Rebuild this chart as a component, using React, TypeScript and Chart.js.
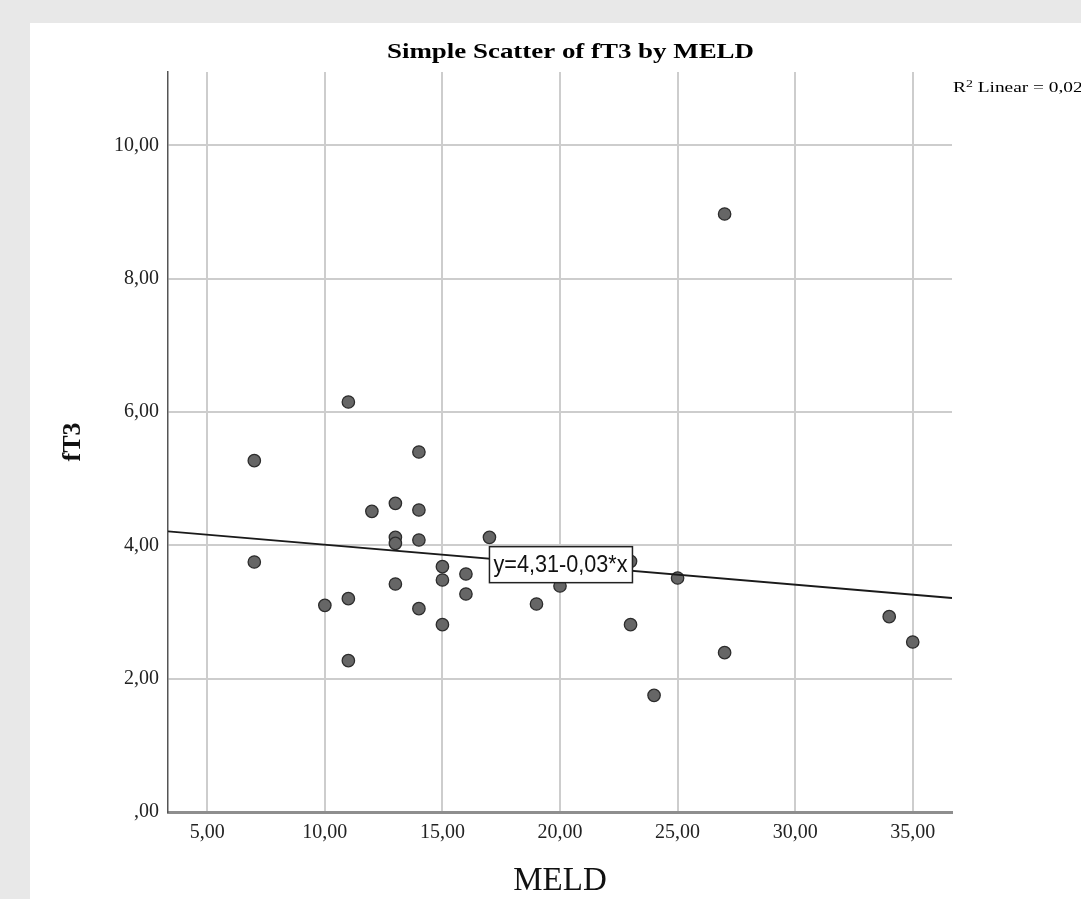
import React, { useEffect, useRef } from "react";
import { Chart, registerables } from "chart.js";

Chart.register(...registerables);

// ---- data ----
const meldValues = [7, 7, 10, 11, 11, 11, 12, 13, 13, 13, 13, 14, 14, 14, 14, 15, 15, 15, 16, 16, 17, 19, 20, 23, 23, 24, 25, 27, 27, 34, 35];
const ft3Values = [5.27, 3.75, 3.1, 6.15, 3.2, 2.27, 4.51, 4.63, 4.12, 4.03, 3.42, 5.4, 4.53, 4.08, 3.05, 3.68, 3.48, 2.81, 3.57, 3.27, 4.12, 3.12, 3.39, 3.76, 2.81, 1.75, 3.51, 8.97, 2.39, 2.93, 2.55];
const xTickValues = [5, 10, 15, 20, 25, 30, 35];
const yTickValues = [0, 2, 4, 6, 8, 10];
const xRange = [3.33, 36.67];
const yRange = [0, 11.1];
const fitIntercept = 4.31;
const fitSlope = -0.03;
const equationAnchorX = 17;
const chartTitle = "Simple Scatter of fT3 by MELD";
const xTitle = "MELD";
const yTitle = "fT3";

const spssTick = (v: number) => {
  const s = v.toFixed(2).replace(".", ",");
  return s.startsWith("0,") ? s.slice(1) : s;
};
const comma = (v: number, d: number) => v.toFixed(d).replace(".", ",");

function rSquared(xs: number[], ys: number[]) {
  const n = xs.length;
  const mx = xs.reduce((a, b) => a + b, 0) / n;
  const my = ys.reduce((a, b) => a + b, 0) / n;
  let sxy = 0, sxx = 0, syy = 0;
  for (let i = 0; i < n; i++) {
    sxy += (xs[i] - mx) * (ys[i] - my);
    sxx += (xs[i] - mx) ** 2;
    syy += (ys[i] - my) ** 2;
  }
  return (sxy * sxy) / (sxx * syy);
}

function drawFitted(ctx: CanvasRenderingContext2D, text: string, x: number, y: number, font: string, targetWidth: number, align: "left" | "center") {
  ctx.save();
  ctx.font = font;
  const w = ctx.measureText(text).width;
  const sx = targetWidth / w;
  ctx.translate(x, y);
  ctx.scale(sx, 1);
  ctx.textAlign = "left";
  ctx.fillText(text, align === "center" ? -w / 2 : 0, 0);
  ctx.restore();
}

const spssTextPlugin = {
  id: "spssText",
  afterDatasetsDraw(chart: any) {
    const { ctx, scales } = chart;
    const xs = scales.x, ys = scales.y;
    const left = xs.getPixelForValue(equationAnchorX);
    const lineY = ys.getPixelForValue(fitIntercept + fitSlope * equationAnchorX);
    const top = lineY - 12;
    const w = 143, h = 36;
    ctx.save();
    ctx.fillStyle = "#ffffff";
    ctx.fillRect(left, top, w, h);
    ctx.strokeStyle = "#222";
    ctx.lineWidth = 1.5;
    ctx.strokeRect(left, top, w, h);
    ctx.fillStyle = "#111";
    ctx.textBaseline = "middle";
    const eq = `y=${comma(fitIntercept, 2)}-${comma(Math.abs(fitSlope), 2)}*x`;
    drawFitted(ctx, eq, left + 4, top + h / 2 + 1, '23px "Liberation Sans"', 134, "left");
    ctx.restore();
  },
  afterDraw(chart: any) {
    const { ctx } = chart;
    ctx.save();
    ctx.fillStyle = "#000";
    ctx.textBaseline = "alphabetic";
    drawFitted(ctx, chartTitle, 540.5, 35, 'bold 22px "Liberation Serif"', 367, "center");

    // R² Linear text
    const r2 = rSquared(meldValues, ft3Values);
    const rest = ` Linear = ${comma(r2, 3)}`;
    const big = '14px "Liberation Serif"';
    const small = '10px "Liberation Serif"';
    ctx.font = big;
    const wR = ctx.measureText("R").width;
    const wEq = ctx.measureText(" Linear =").width;
    ctx.font = small;
    const w2 = ctx.measureText("2").width;
    const sx = 91 / (wR + w2 + wEq);
    ctx.translate(923, 69);
    ctx.scale(sx, 1);
    ctx.font = big;
    ctx.fillText("R", 0, 0);
    ctx.font = small;
    ctx.fillText("2", wR, -5);
    ctx.font = big;
    ctx.fillText(rest, wR + w2, 0);
    ctx.restore();
  },
};

export default function App() {
  const ref = useRef<HTMLCanvasElement | null>(null);

  useEffect(() => {
    if (!ref.current) return;
    const points = meldValues.map((x, i) => ({ x, y: ft3Values[i] }));
    const chart = new Chart(ref.current, {
      type: "scatter",
      data: {
        datasets: [
          {
            type: "line",
            data: [
              { x: xRange[0], y: fitIntercept + fitSlope * xRange[0] },
              { x: xRange[1], y: fitIntercept + fitSlope * xRange[1] },
            ],
            borderColor: "#1a1a1a",
            borderWidth: 1.8,
            pointRadius: 0,
            fill: false,
            tension: 0,
            order: 0,
          } as any,
          {
            data: points,
            backgroundColor: "#666666",
            borderColor: "#2c2c2c",
            borderWidth: 1.3,
            pointRadius: 6.2,
            order: 1,
          },
        ],
      },
      options: {
        animation: false,
        responsive: true,
        maintainAspectRatio: false,
        events: [],
        layout: { padding: { left: 0, top: 49, right: 129, bottom: 0 } },
        plugins: {
          legend: { display: false },
          title: { display: false },
          tooltip: { enabled: false },
        },
        scales: {
          x: {
            type: "linear",
            min: xRange[0],
            max: xRange[1],
            afterBuildTicks: (s: any) => {
              s.ticks = xTickValues.map((v) => ({ value: v }));
            },
            afterFit: (s: any) => {
              s.height = 87;
            },
            grid: { color: "#cdcdcd", lineWidth: 2, drawTicks: false },
            border: { color: "#8e8e8e", width: 3 },
            ticks: {
              padding: 9,
              autoSkip: false,
              maxRotation: 0,
              color: "#222",
              font: { family: "Liberation Serif", size: 20 },
              callback: (v: any) => spssTick(Number(v)),
            },
            title: {
              display: true,
              text: xTitle,
              color: "#111",
              font: { family: "Liberation Serif", size: 33, lineHeight: 1 },
              padding: { top: 0, bottom: 1 },
            },
          },
          y: {
            type: "linear",
            min: yRange[0],
            max: yRange[1],
            afterBuildTicks: (s: any) => {
              s.ticks = yTickValues.map((v) => ({ value: v }));
            },
            afterFit: (s: any) => {
              s.width = 138;
            },
            grid: {
              color: (c: any) => (c.tick && c.tick.value === 0 ? "rgba(0,0,0,0)" : "#cdcdcd"),
              lineWidth: 2,
              drawTicks: false,
            },
            border: { color: "#555", width: 1.5 },
            ticks: {
              padding: 9,
              autoSkip: false,
              color: "#222",
              font: { family: "Liberation Serif", size: 20 },
              callback: (v: any) => spssTick(Number(v)),
            },
            title: {
              display: true,
              text: yTitle,
              color: "#111",
              font: { family: "Liberation Serif", size: 26, weight: "bold", lineHeight: 1.2 },
              padding: { top: 28, bottom: 0 },
            },
          },
        },
      },
      plugins: [spssTextPlugin],
    });
    return () => chart.destroy();
  }, []);

  return (
    <div style={{ position: "fixed", inset: 0, background: "#e8e8e8", overflow: "hidden" }}>
      <div style={{ position: "absolute", left: 30, top: 23, width: 1051, height: 876, background: "#ffffff" }}>
        <canvas ref={ref} />
      </div>
    </div>
  );
}
